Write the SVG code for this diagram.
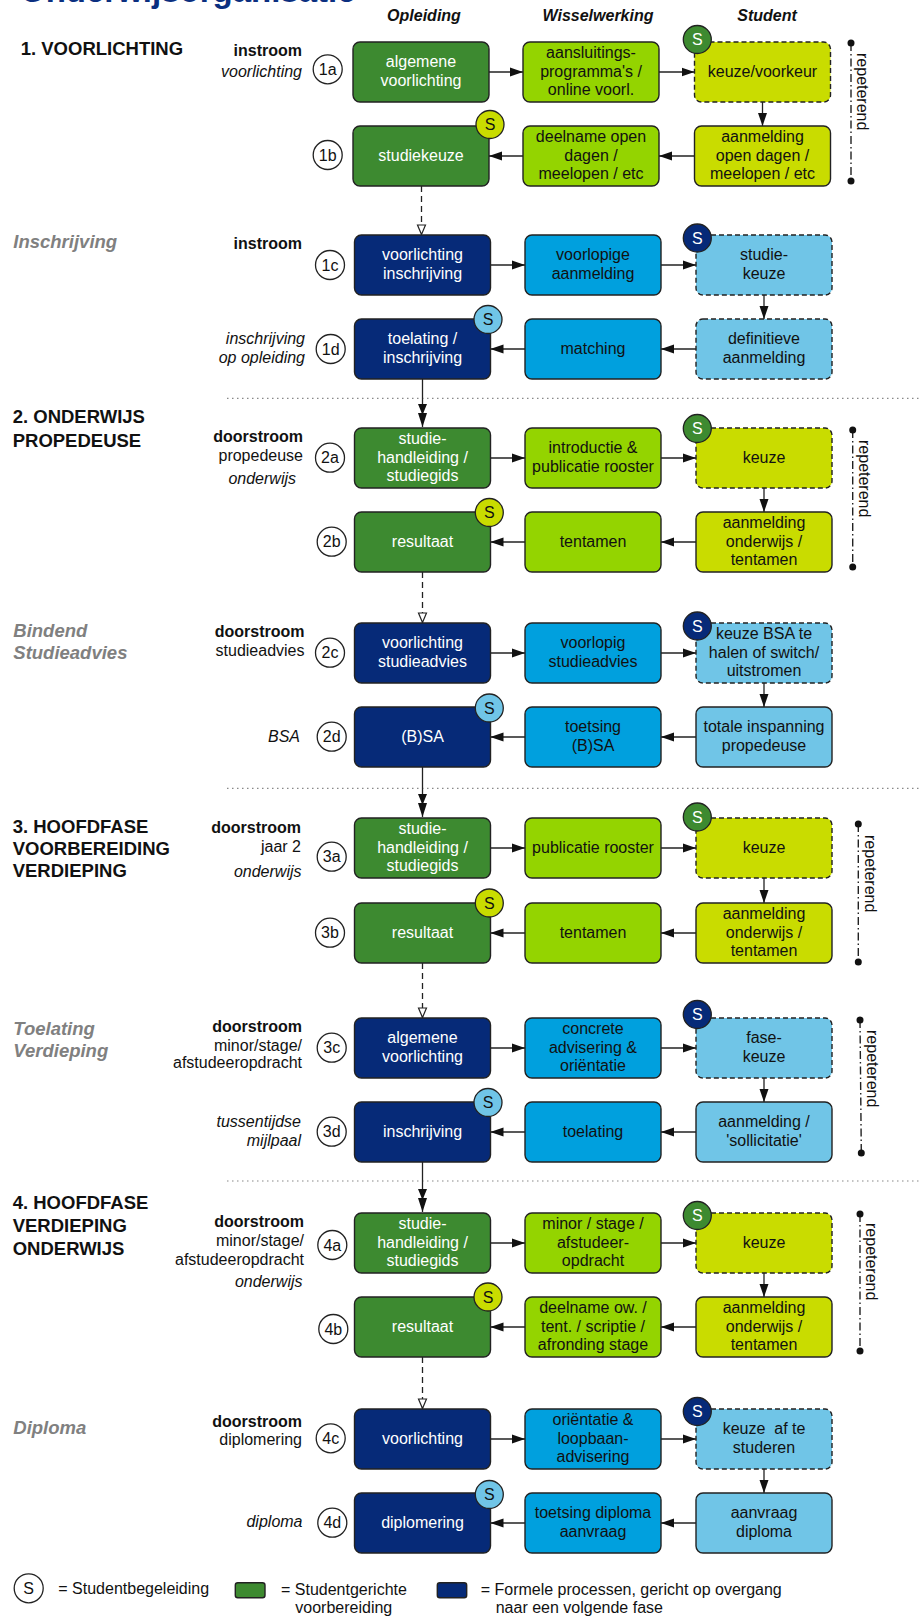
<svg xmlns="http://www.w3.org/2000/svg" width="919" height="1616" viewBox="0 0 919 1616">
<style>
text{font-family:"Liberation Sans",Arial,Helvetica,sans-serif;font-size:16px;fill:#111}
.c{text-anchor:middle}
.e{text-anchor:end}
.w{fill:#fff}
.b{font-weight:bold}
.i{font-style:italic}
.h{font-size:18.5px;font-weight:bold}
.g{font-size:18.5px;font-weight:bold;font-style:italic;fill:#808080}
.box{stroke:#222;stroke-width:1.4}
.dsh{stroke-dasharray:5 3}
.dg{fill:#3d8a30}.nv{fill:#062a78}.lg{fill:#94d400}.yg{fill:#c9dc00}.bl{fill:#00a0de}.lb{fill:#70c5e7}
.num{fill:#fff;stroke:#222;stroke-width:1.3}
.sc{stroke:#222;stroke-width:1.3}
.con{fill:none;stroke:#222;stroke-width:1.3}
.dcon{fill:none;stroke:#222;stroke-width:1.3;stroke-dasharray:6 4}
.sep{stroke:#888;stroke-width:1.2;stroke-dasharray:1.5 3.5}
.rep{stroke:#222;stroke-width:1.4;stroke-dasharray:8 3 1.5 3;fill:none}
</style>
<defs>
<marker id="arr" markerUnits="userSpaceOnUse" markerWidth="13" markerHeight="10" refX="13" refY="5" orient="auto"><path d="M0,0.5 L13,5 L0,9.5 z" fill="#111"/></marker>
<marker id="open" markerUnits="userSpaceOnUse" markerWidth="12" markerHeight="11" refX="11" refY="5.5" orient="auto"><path d="M1,1.5 L10.5,5.5 L1,9.5 z" fill="#fff" stroke="#222" stroke-width="1.2"/></marker>
<marker id="dbl" markerUnits="userSpaceOnUse" markerWidth="24" markerHeight="10" refX="23" refY="5" orient="auto"><path d="M0,0.5 L11,5 L0,9.5 z M9,0.5 L23,5 L9,9.5 z" fill="#111"/></marker>
</defs>

<text x="20" y="1.5" class="b" style="font-size:33px;fill:#0b2f80">Onderwijsorganisatie</text>

<g id="headers">
<text x="424" y="21" class="c b i">Opleiding</text>
<text x="598" y="21" class="c b i">Wisselwerking</text>
<text x="767" y="21" class="c b i">Student</text>
</g>

<g id="section-labels">
<text x="20.7" y="55" class="h">1. VOORLICHTING</text>
<text x="13.3" y="248.3" class="g">Inschrijving</text>
<text x="12.7" y="423.3" class="h">2. ONDERWIJS</text>
<text x="12.7" y="446.7" class="h">PROPEDEUSE</text>
<text x="13.3" y="636.7" class="g">Bindend</text>
<text x="13.3" y="659.3" class="g">Studieadvies</text>
<text x="12.7" y="832.7" class="h">3. HOOFDFASE</text>
<text x="12.7" y="855" class="h">VOORBEREIDING</text>
<text x="12.7" y="877.3" class="h">VERDIEPING</text>
<text x="13.3" y="1035" class="g">Toelating</text>
<text x="13.3" y="1056.7" class="g">Verdieping</text>
<text x="12.7" y="1209" class="h">4. HOOFDFASE</text>
<text x="12.7" y="1232.3" class="h">VERDIEPING</text>
<text x="12.7" y="1255" class="h">ONDERWIJS</text>
<text x="13.3" y="1434" class="g">Diploma</text>
</g>

<g id="row-labels">
<text x="302" y="56" class="e b">instroom</text>
<text x="302" y="77.3" class="e i">voorlichting</text>
<text x="302" y="249.3" class="e b">instroom</text>
<text x="305" y="344" class="e i">inschrijving</text>
<text x="305" y="362.7" class="e i">op opleiding</text>
<text x="303" y="441.7" class="e b">doorstroom</text>
<text x="303" y="460.7" class="e">propedeuse</text>
<text x="296" y="484" class="e i">onderwijs</text>
<text x="304.5" y="636.7" class="e b">doorstroom</text>
<text x="304.5" y="655.7" class="e">studieadvies</text>
<text x="300" y="741.7" class="e i">BSA</text>
<text x="301" y="832.7" class="e b">doorstroom</text>
<text x="301" y="851.7" class="e">jaar 2</text>
<text x="301.5" y="876.7" class="e i">onderwijs</text>
<text x="302" y="1031.7" class="e b">doorstroom</text>
<text x="302" y="1050.7" class="e">minor/stage/</text>
<text x="302" y="1068.3" class="e">afstudeeropdracht</text>
<text x="301" y="1126.7" class="e i">tussentijdse</text>
<text x="301" y="1145.7" class="e i">mijlpaal</text>
<text x="304" y="1226.7" class="e b">doorstroom</text>
<text x="304" y="1245.7" class="e">minor/stage/</text>
<text x="304" y="1265" class="e">afstudeeropdracht</text>
<text x="302.5" y="1287.3" class="e i">onderwijs</text>
<text x="302" y="1426.7" class="e b">doorstroom</text>
<text x="302" y="1445" class="e">diplomering</text>
<text x="302.5" y="1527.3" class="e i">diploma</text>
</g>

<g id="step-numbers">
<circle class="num" cx="327.7" cy="69.3" r="14.5"/><text x="327.7" y="74.8" class="c">1a</text>
<circle class="num" cx="327.7" cy="155" r="14.5"/><text x="327.7" y="160.5" class="c">1b</text>
<circle class="num" cx="330" cy="265" r="14.5"/><text x="330" y="270.5" class="c">1c</text>
<circle class="num" cx="330.7" cy="349" r="14.5"/><text x="330.7" y="354.5" class="c">1d</text>
<circle class="num" cx="330" cy="457.7" r="14.5"/><text x="330" y="463.2" class="c">2a</text>
<circle class="num" cx="331.7" cy="541.7" r="14.5"/><text x="331.7" y="547.2" class="c">2b</text>
<circle class="num" cx="330" cy="652.7" r="14.5"/><text x="330" y="658.2" class="c">2c</text>
<circle class="num" cx="331.7" cy="736.7" r="14.5"/><text x="331.7" y="742.2" class="c">2d</text>
<circle class="num" cx="331.7" cy="856.7" r="14.5"/><text x="331.7" y="862.2" class="c">3a</text>
<circle class="num" cx="330" cy="932.7" r="14.5"/><text x="330" y="938.2" class="c">3b</text>
<circle class="num" cx="331.7" cy="1047.7" r="14.5"/><text x="331.7" y="1053.2" class="c">3c</text>
<circle class="num" cx="331.7" cy="1131.7" r="14.5"/><text x="331.7" y="1137.2" class="c">3d</text>
<circle class="num" cx="332.3" cy="1245" r="14.5"/><text x="332.3" y="1250.5" class="c">4a</text>
<circle class="num" cx="333.3" cy="1329" r="14.5"/><text x="333.3" y="1334.5" class="c">4b</text>
<circle class="num" cx="330.7" cy="1438.3" r="14.5"/><text x="330.7" y="1443.8" class="c">4c</text>
<circle class="num" cx="332.3" cy="1522.7" r="14.5"/><text x="332.3" y="1528.2" class="c">4d</text>
</g>

<g id="separators">
<line class="sep" x1="227" y1="398.3" x2="919" y2="398.3"/>
<line class="sep" x1="227" y1="788.3" x2="919" y2="788.3"/>
<line class="sep" x1="227" y1="1181" x2="919" y2="1181"/>
</g>

<g id="repeterend">
<line class="rep" x1="851" y1="43" x2="851" y2="181"/><circle cx="851" cy="43" r="3.5" fill="#111"/><circle cx="851" cy="181" r="3.5" fill="#111"/>
<text transform="translate(857,53) rotate(90)">repeterend</text>
<line class="rep" x1="852.7" y1="430" x2="852.7" y2="567"/><circle cx="852.7" cy="430" r="3.5" fill="#111"/><circle cx="852.7" cy="567" r="3.5" fill="#111"/>
<text transform="translate(859,440) rotate(90)">repeterend</text>
<line class="rep" x1="858.3" y1="824" x2="858.3" y2="962"/><circle cx="858.3" cy="824" r="3.5" fill="#111"/><circle cx="858.3" cy="962" r="3.5" fill="#111"/>
<text transform="translate(865,835) rotate(90)">repeterend</text>
<line class="rep" x1="860" y1="1020" x2="861.3" y2="1153"/><circle cx="860" cy="1020" r="3.5" fill="#111"/><circle cx="861.3" cy="1153" r="3.5" fill="#111"/>
<text transform="translate(867,1030) rotate(90)">repeterend</text>
<line class="rep" x1="860" y1="1214" x2="860" y2="1351"/><circle cx="860" cy="1214" r="3.5" fill="#111"/><circle cx="860" cy="1351" r="3.5" fill="#111"/>
<text transform="translate(866,1223) rotate(90)">repeterend</text>
</g>

<g id="connectors">
<path class="con" d="M489,72 H523" marker-end="url(#arr)"/>
<path class="con" d="M659,72 H694.5" marker-end="url(#arr)"/>
<path class="con" d="M762.5,102 V126" marker-end="url(#arr)"/>
<path class="con" d="M694.5,156 H659" marker-end="url(#arr)"/>
<path class="con" d="M523,156 H489" marker-end="url(#arr)"/>
<path class="dcon" d="M421.5,186 V235" marker-end="url(#open)"/>
<path class="con" d="M490.5,265 H525" marker-end="url(#arr)"/>
<path class="con" d="M661,265 H696" marker-end="url(#arr)"/>
<path class="con" d="M764,295 V319" marker-end="url(#arr)"/>
<path class="con" d="M696,349 H661" marker-end="url(#arr)"/>
<path class="con" d="M525,349 H490.5" marker-end="url(#arr)"/>
<path class="con" d="M422.5,379 V427" marker-end="url(#dbl)"/>

<path class="con" d="M490.5,458 H525" marker-end="url(#arr)"/>
<path class="con" d="M661,458 H696" marker-end="url(#arr)"/>
<path class="con" d="M764,488 V512" marker-end="url(#arr)"/>
<path class="con" d="M696,542 H661" marker-end="url(#arr)"/>
<path class="con" d="M525,542 H490.5" marker-end="url(#arr)"/>
<path class="dcon" d="M422.5,572 V623" marker-end="url(#open)"/>
<path class="con" d="M490.5,653 H525" marker-end="url(#arr)"/>
<path class="con" d="M661,653 H696" marker-end="url(#arr)"/>
<path class="con" d="M764,683 V707" marker-end="url(#arr)"/>
<path class="con" d="M696,737 H661" marker-end="url(#arr)"/>
<path class="con" d="M525,737 H490.5" marker-end="url(#arr)"/>
<path class="con" d="M422.5,767 V817" marker-end="url(#dbl)"/>

<path class="con" d="M490.5,848 H525" marker-end="url(#arr)"/>
<path class="con" d="M661,848 H696" marker-end="url(#arr)"/>
<path class="con" d="M764,878 V903" marker-end="url(#arr)"/>
<path class="con" d="M696,933 H661" marker-end="url(#arr)"/>
<path class="con" d="M525,933 H490.5" marker-end="url(#arr)"/>
<path class="dcon" d="M422.5,963 V1018" marker-end="url(#open)"/>
<path class="con" d="M490.5,1048 H525" marker-end="url(#arr)"/>
<path class="con" d="M661,1048 H696" marker-end="url(#arr)"/>
<path class="con" d="M764,1078 V1102" marker-end="url(#arr)"/>
<path class="con" d="M696,1132 H661" marker-end="url(#arr)"/>
<path class="con" d="M525,1132 H490.5" marker-end="url(#arr)"/>
<path class="con" d="M422.5,1162 V1212" marker-end="url(#dbl)"/>

<path class="con" d="M490.5,1243 H525" marker-end="url(#arr)"/>
<path class="con" d="M661,1243 H696" marker-end="url(#arr)"/>
<path class="con" d="M764,1273 V1297" marker-end="url(#arr)"/>
<path class="con" d="M696,1327 H661" marker-end="url(#arr)"/>
<path class="con" d="M525,1327 H490.5" marker-end="url(#arr)"/>
<path class="dcon" d="M422.5,1357 V1409" marker-end="url(#open)"/>
<path class="con" d="M490.5,1439 H525" marker-end="url(#arr)"/>
<path class="con" d="M661,1439 H696" marker-end="url(#arr)"/>
<path class="con" d="M764,1469 V1493" marker-end="url(#arr)"/>
<path class="con" d="M696,1523 H661" marker-end="url(#arr)"/>
<path class="con" d="M525,1523 H490.5" marker-end="url(#arr)"/>
</g>

<!-- Section 1 -->
<g id="n1a-opleiding"><rect class="box dg" x="353" y="42" width="136" height="60" rx="7"/><text class="c w" x="421" y="67.4">algemene</text><text class="c w" x="421" y="85.7">voorlichting</text></g>
<g id="n1a-wissel"><rect class="box lg" x="523" y="42" width="136" height="60" rx="7"/><text class="c" x="591" y="58.2">aansluitings-</text><text class="c" x="591" y="76.5">programma's /</text><text class="c" x="591" y="94.8">online voorl.</text></g>
<g id="n1a-student"><rect class="box dsh yg" x="694.5" y="42" width="136" height="60" rx="7"/><text class="c" x="762.5" y="76.5">keuze/voorkeur</text><circle class="sc dg" cx="697.3" cy="39.5" r="14"/><text class="c w" x="697.3" y="45.3">S</text></g>
<g id="n1b-student"><rect class="box yg" x="694.5" y="126" width="136" height="60" rx="7"/><text class="c" x="762.5" y="142.2">aanmelding</text><text class="c" x="762.5" y="160.5">open dagen /</text><text class="c" x="762.5" y="178.8">meelopen / etc</text></g>
<g id="n1b-wissel"><rect class="box lg" x="523" y="126" width="136" height="60" rx="7"/><text class="c" x="591" y="142.2">deelname open</text><text class="c" x="591" y="160.5">dagen /</text><text class="c" x="591" y="178.8">meelopen / etc</text></g>
<g id="n1b-opleiding"><rect class="box dg" x="353" y="126" width="136" height="60" rx="7"/><text class="c w" x="421" y="160.5">studiekeuze</text><circle class="sc yg" cx="490" cy="124.5" r="14"/><text class="c" x="490" y="130.3">S</text></g>

<g id="n1c-opleiding"><rect class="box nv" x="354.5" y="235" width="136" height="60" rx="7"/><text class="c w" x="422.5" y="260.4">voorlichting</text><text class="c w" x="422.5" y="278.7">inschrijving</text></g>
<g id="n1c-wissel"><rect class="box bl" x="525" y="235" width="136" height="60" rx="7"/><text class="c" x="593" y="260.4">voorlopige</text><text class="c" x="593" y="278.7">aanmelding</text></g>
<g id="n1c-student"><rect class="box dsh lb" x="696" y="235" width="136" height="60" rx="7"/><text class="c" x="764" y="260.4">studie-</text><text class="c" x="764" y="278.7">keuze</text><circle class="sc nv" cx="697.3" cy="238" r="14"/><text class="c w" x="697.3" y="243.8">S</text></g>
<g id="n1d-student"><rect class="box dsh lb" x="696" y="319" width="136" height="60" rx="7"/><text class="c" x="764" y="344.4">definitieve</text><text class="c" x="764" y="362.7">aanmelding</text></g>
<g id="n1d-wissel"><rect class="box bl" x="525" y="319" width="136" height="60" rx="7"/><text class="c" x="593" y="353.5">matching</text></g>
<g id="n1d-opleiding"><rect class="box nv" x="354.5" y="319" width="136" height="60" rx="7"/><text class="c w" x="422.5" y="344.4">toelating /</text><text class="c w" x="422.5" y="362.7">inschrijving</text><circle class="sc lb" cx="488" cy="319.5" r="14"/><text class="c" x="488" y="325.3">S</text></g>

<!-- Section 2 -->
<g id="n2a-opleiding"><rect class="box dg" x="354.5" y="428" width="136" height="60" rx="7"/><text class="c w" x="422.5" y="444.2">studie-</text><text class="c w" x="422.5" y="462.5">handleiding /</text><text class="c w" x="422.5" y="480.8">studiegids</text></g>
<g id="n2a-wissel"><rect class="box lg" x="525" y="428" width="136" height="60" rx="7"/><text class="c" x="593" y="453.4">introductie &amp;</text><text class="c" x="593" y="471.7">publicatie rooster</text></g>
<g id="n2a-student"><rect class="box dsh yg" x="696" y="428" width="136" height="60" rx="7"/><text class="c" x="764" y="462.5">keuze</text><circle class="sc dg" cx="697.3" cy="428.5" r="14"/><text class="c w" x="697.3" y="434.3">S</text></g>
<g id="n2b-student"><rect class="box yg" x="696" y="512" width="136" height="60" rx="7"/><text class="c" x="764" y="528.2">aanmelding</text><text class="c" x="764" y="546.5">onderwijs /</text><text class="c" x="764" y="564.8">tentamen</text></g>
<g id="n2b-wissel"><rect class="box lg" x="525" y="512" width="136" height="60" rx="7"/><text class="c" x="593" y="546.5">tentamen</text></g>
<g id="n2b-opleiding"><rect class="box dg" x="354.5" y="512" width="136" height="60" rx="7"/><text class="c w" x="422.5" y="546.5">resultaat</text><circle class="sc yg" cx="489.3" cy="512.5" r="14"/><text class="c" x="489.3" y="518.3">S</text></g>

<g id="n2c-opleiding"><rect class="box nv" x="354.5" y="623" width="136" height="60" rx="7"/><text class="c w" x="422.5" y="648.4">voorlichting</text><text class="c w" x="422.5" y="666.7">studieadvies</text></g>
<g id="n2c-wissel"><rect class="box bl" x="525" y="623" width="136" height="60" rx="7"/><text class="c" x="593" y="648.4">voorlopig</text><text class="c" x="593" y="666.7">studieadvies</text></g>
<g id="n2c-student"><rect class="box dsh lb" x="696" y="623" width="136" height="60" rx="7"/><text class="c" x="764" y="639.2">keuze BSA te</text><text class="c" x="764" y="657.5">halen of switch/</text><text class="c" x="764" y="675.8">uitstromen</text><circle class="sc nv" cx="697.3" cy="626" r="14"/><text class="c w" x="697.3" y="631.8">S</text></g>
<g id="n2d-student"><rect class="box lb" x="696" y="707" width="136" height="60" rx="7"/><text class="c" x="764" y="732.4">totale inspanning</text><text class="c" x="764" y="750.7">propedeuse</text></g>
<g id="n2d-wissel"><rect class="box bl" x="525" y="707" width="136" height="60" rx="7"/><text class="c" x="593" y="732.4">toetsing</text><text class="c" x="593" y="750.7">(B)SA</text></g>
<g id="n2d-opleiding"><rect class="box nv" x="354.5" y="707" width="136" height="60" rx="7"/><text class="c w" x="422.5" y="741.5">(B)SA</text><circle class="sc lb" cx="489.3" cy="708" r="14"/><text class="c" x="489.3" y="713.8">S</text></g>

<!-- Section 3 -->
<g id="n3a-opleiding"><rect class="box dg" x="354.5" y="818" width="136" height="60" rx="7"/><text class="c w" x="422.5" y="834.2">studie-</text><text class="c w" x="422.5" y="852.5">handleiding /</text><text class="c w" x="422.5" y="870.8">studiegids</text></g>
<g id="n3a-wissel"><rect class="box lg" x="525" y="818" width="136" height="60" rx="7"/><text class="c" x="593" y="852.5">publicatie rooster</text></g>
<g id="n3a-student"><rect class="box dsh yg" x="696" y="818" width="136" height="60" rx="7"/><text class="c" x="764" y="852.5">keuze</text><circle class="sc dg" cx="697.3" cy="817" r="14"/><text class="c w" x="697.3" y="822.8">S</text></g>
<g id="n3b-student"><rect class="box yg" x="696" y="903" width="136" height="60" rx="7"/><text class="c" x="764" y="919.2">aanmelding</text><text class="c" x="764" y="937.5">onderwijs /</text><text class="c" x="764" y="955.8">tentamen</text></g>
<g id="n3b-wissel"><rect class="box lg" x="525" y="903" width="136" height="60" rx="7"/><text class="c" x="593" y="937.5">tentamen</text></g>
<g id="n3b-opleiding"><rect class="box dg" x="354.5" y="903" width="136" height="60" rx="7"/><text class="c w" x="422.5" y="937.5">resultaat</text><circle class="sc yg" cx="489.3" cy="903" r="14"/><text class="c" x="489.3" y="908.8">S</text></g>

<g id="n3c-opleiding"><rect class="box nv" x="354.5" y="1018" width="136" height="60" rx="7"/><text class="c w" x="422.5" y="1043.4">algemene</text><text class="c w" x="422.5" y="1061.7">voorlichting</text></g>
<g id="n3c-wissel"><rect class="box bl" x="525" y="1018" width="136" height="60" rx="7"/><text class="c" x="593" y="1034.2">concrete</text><text class="c" x="593" y="1052.5">advisering &amp;</text><text class="c" x="593" y="1070.8">oriëntatie</text></g>
<g id="n3c-student"><rect class="box dsh lb" x="696" y="1018" width="136" height="60" rx="7"/><text class="c" x="764" y="1043.4">fase-</text><text class="c" x="764" y="1061.7">keuze</text><circle class="sc nv" cx="697.3" cy="1014.5" r="14"/><text class="c w" x="697.3" y="1020.3">S</text></g>
<g id="n3d-student"><rect class="box lb" x="696" y="1102" width="136" height="60" rx="7"/><text class="c" x="764" y="1127.4">aanmelding /</text><text class="c" x="764" y="1145.7">'sollicitatie'</text></g>
<g id="n3d-wissel"><rect class="box bl" x="525" y="1102" width="136" height="60" rx="7"/><text class="c" x="593" y="1136.5">toelating</text></g>
<g id="n3d-opleiding"><rect class="box nv" x="354.5" y="1102" width="136" height="60" rx="7"/><text class="c w" x="422.5" y="1136.5">inschrijving</text><circle class="sc lb" cx="488" cy="1102.5" r="14"/><text class="c" x="488" y="1108.3">S</text></g>

<!-- Section 4 -->
<g id="n4a-opleiding"><rect class="box dg" x="354.5" y="1213" width="136" height="60" rx="7"/><text class="c w" x="422.5" y="1229.2">studie-</text><text class="c w" x="422.5" y="1247.5">handleiding /</text><text class="c w" x="422.5" y="1265.8">studiegids</text></g>
<g id="n4a-wissel"><rect class="box lg" x="525" y="1213" width="136" height="60" rx="7"/><text class="c" x="593" y="1229.2">minor / stage /</text><text class="c" x="593" y="1247.5">afstudeer-</text><text class="c" x="593" y="1265.8">opdracht</text></g>
<g id="n4a-student"><rect class="box dsh yg" x="696" y="1213" width="136" height="60" rx="7"/><text class="c" x="764" y="1247.5">keuze</text><circle class="sc dg" cx="697.3" cy="1215.5" r="14"/><text class="c w" x="697.3" y="1221.3">S</text></g>
<g id="n4b-student"><rect class="box yg" x="696" y="1297" width="136" height="60" rx="7"/><text class="c" x="764" y="1313.2">aanmelding</text><text class="c" x="764" y="1331.5">onderwijs /</text><text class="c" x="764" y="1349.8">tentamen</text></g>
<g id="n4b-wissel"><rect class="box lg" x="525" y="1297" width="136" height="60" rx="7"/><text class="c" x="593" y="1313.2">deelname ow. /</text><text class="c" x="593" y="1331.5">tent. / scriptie /</text><text class="c" x="593" y="1349.8">afronding stage</text></g>
<g id="n4b-opleiding"><rect class="box dg" x="354.5" y="1297" width="136" height="60" rx="7"/><text class="c w" x="422.5" y="1331.5">resultaat</text><circle class="sc yg" cx="488" cy="1297" r="14"/><text class="c" x="488" y="1302.8">S</text></g>

<g id="n4c-opleiding"><rect class="box nv" x="354.5" y="1409" width="136" height="60" rx="7"/><text class="c w" x="422.5" y="1443.5">voorlichting</text></g>
<g id="n4c-wissel"><rect class="box bl" x="525" y="1409" width="136" height="60" rx="7"/><text class="c" x="593" y="1425.2">oriëntatie &amp;</text><text class="c" x="593" y="1443.5">loopbaan-</text><text class="c" x="593" y="1461.8">advisering</text></g>
<g id="n4c-student"><rect class="box dsh lb" x="696" y="1409" width="136" height="60" rx="7"/><text class="c" x="764" y="1434.4" xml:space="preserve">keuze  af te</text><text class="c" x="764" y="1452.7">studeren</text><circle class="sc nv" cx="697.3" cy="1411.5" r="14"/><text class="c w" x="697.3" y="1417.3">S</text></g>
<g id="n4d-student"><rect class="box lb" x="696" y="1493" width="136" height="60" rx="7"/><text class="c" x="764" y="1518.4">aanvraag</text><text class="c" x="764" y="1536.7">diploma</text></g>
<g id="n4d-wissel"><rect class="box bl" x="525" y="1493" width="136" height="60" rx="7"/><text class="c" x="593" y="1518.4">toetsing diploma</text><text class="c" x="593" y="1536.7">aanvraag</text></g>
<g id="n4d-opleiding"><rect class="box nv" x="354.5" y="1493" width="136" height="60" rx="7"/><text class="c w" x="422.5" y="1527.5">diplomering</text><circle class="sc lb" cx="489.3" cy="1494.5" r="14"/><text class="c" x="489.3" y="1500.3">S</text></g>

<g id="legend">
<circle class="num" cx="28.7" cy="1588.3" r="14.5"/><text class="c" x="28.7" y="1594">S</text>
<text x="58.3" y="1594">= Studentbegeleiding</text>
<rect class="box dg" x="235.3" y="1582.7" width="29.7" height="15" rx="2.5"/>
<text x="281" y="1595">= Studentgerichte</text>
<text x="295.3" y="1613.3">voorbereiding</text>
<rect class="box nv" x="437.3" y="1582.7" width="29.4" height="15" rx="2.5"/>
<text x="480.7" y="1595">= Formele processen, gericht op overgang</text>
<text x="495.7" y="1613.3">naar een volgende fase</text>
</g>
</svg>
